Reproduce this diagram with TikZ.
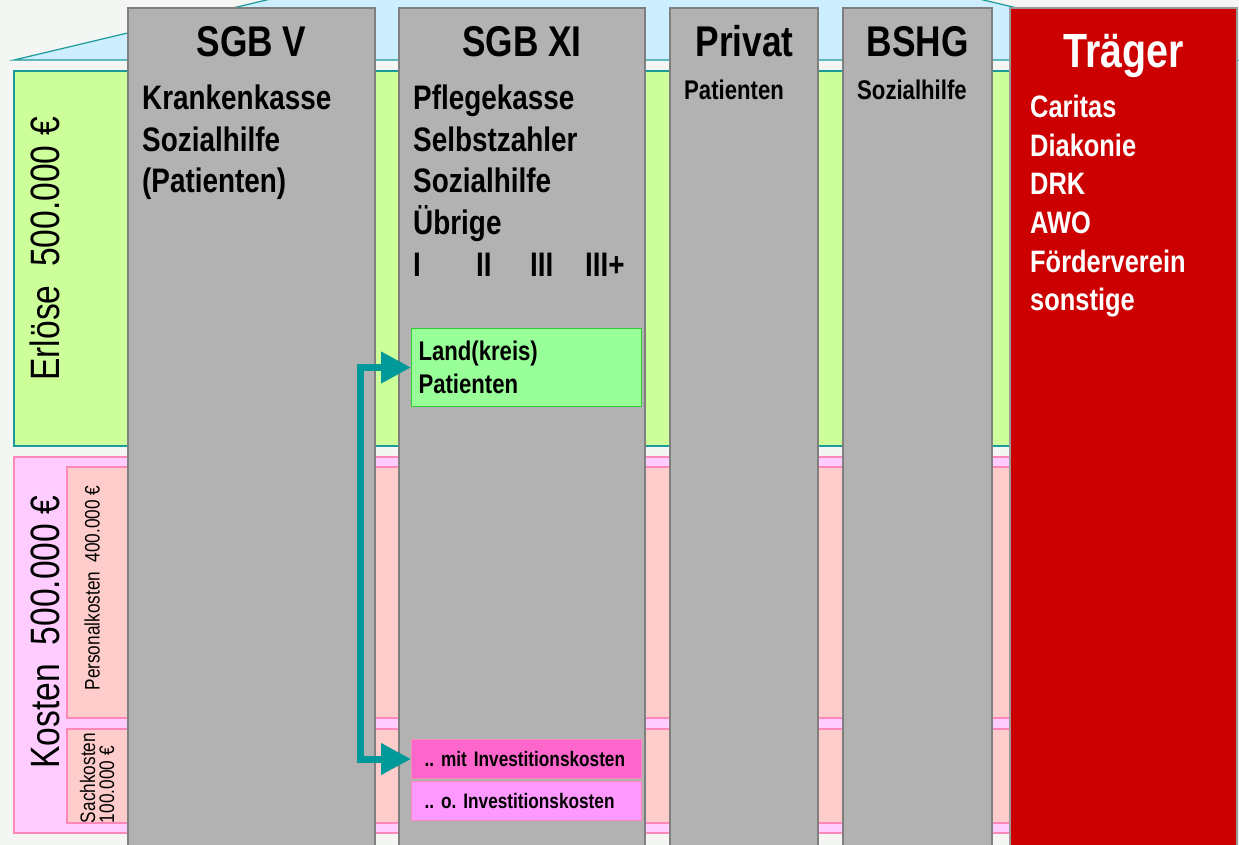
\documentclass[tikz,border=0pt]{standalone}
\usepackage{fontspec}
\setmainfont{Liberation Sans}[FakeStretch=0.82]
\usepackage{xcolor}
\usepackage{tikz}
\usetikzlibrary{arrows.meta}
\definecolor{bg}{HTML}{F4F6F4}
\definecolor{roof}{HTML}{CCEEFF}
\definecolor{tealline}{HTML}{1A9A9A}
\definecolor{erloes}{HTML}{CCFF99}
\definecolor{kosten}{HTML}{FFCCFF}
\definecolor{kostenline}{HTML}{FF88BB}
\definecolor{salmon}{HTML}{FFCCCC}
\definecolor{colgray}{HTML}{B2B2B2}
\definecolor{colline}{HTML}{7F7F7F}
\definecolor{traeger}{HTML}{CC0000}
\definecolor{landgreen}{HTML}{99FF99}
\definecolor{landline}{HTML}{33CC33}
\definecolor{mitpink}{HTML}{FF66CC}
\definecolor{ohnepink}{HTML}{FF99FF}
\definecolor{flowteal}{HTML}{009999}
\tikzset{
  band/.style={line width=1.2pt},
  colbox/.style={fill=colgray, draw=colline, line width=1.5pt},
  title/.style={font=\bfseries\fontsize{43}{50}\selectfont, anchor=base, inner sep=0pt},
  sub/.style={font=\bfseries\fontsize{34}{40}\selectfont, anchor=base west, inner sep=0pt},
  subs/.style={font=\bfseries\fontsize{27}{32}\selectfont, anchor=base west, inner sep=0pt},
  tlist/.style={font=\bfseries\fontsize{31}{36}\selectfont, text=white, anchor=base west, inner sep=0pt},
  biglab/.style={font=\fontsize{41}{48}\selectfont, rotate=90, inner sep=0pt},
  smalllab/.style={font=\fontsize{21}{19}\selectfont, rotate=90, inner sep=0pt, align=left},
  landbox/.style={fill=landgreen, draw=landline, line width=1pt, anchor=north west,
    minimum height=78pt, text width=216pt, inner xsep=7pt, align=left,
    font=\bfseries\fontsize{27}{33}\selectfont},
  invbox/.style={draw=kostenline, line width=1pt, anchor=north west,
    minimum height=39pt, text width=204pt, inner xsep=13pt, align=left,
    font=\bfseries\fontsize{21}{25}\selectfont},
  flow/.style={draw=flowteal, line width=7pt,
    {Triangle[length=30pt,width=30pt]}-{Triangle[length=30pt,width=30pt]}},
}
\begin{document}
\frenchspacing
\begin{tikzpicture}[x=1pt,y=-1pt]
  \useasboundingbox (0,0) rectangle (1239,845);
  \fill[bg] (0,0) rectangle (1239,845);
  \filldraw[fill=roof, draw=tealline, band] (14,60) -- (624,-85) -- (1237,60) -- cycle;
  \filldraw[fill=erloes, draw=tealline, band] (14,71) rectangle (1237,446);
  \filldraw[fill=kosten, draw=kostenline, band] (14,457) rectangle (1237,833);
  \filldraw[fill=salmon, draw=kostenline, band] (67,467) rectangle (1237,718);
  \filldraw[fill=salmon, draw=kostenline, band] (67,729) rectangle (1237,823);

  \node[biglab] (erl) at (45,249) {Erlöse~~500.000 €};
  \node[biglab] (kos) at (45,632) {Kosten~~500.000 €};
  \node[smalllab] (pers) at (92,588) {Personalkosten~~400.000 €};
  \node[smalllab] (sach) at (97,778) {Sachkosten\\100.000 €};

  \foreach \xl/\xr in {128/375, 399/645, 670/818, 843/992}
    \draw[colbox] (\xl,8) rectangle (\xr,852);
  \filldraw[fill=traeger, draw=colline!80, line width=1.5pt] (1010,8) rectangle (1237,852);

  \node[title] (tV) at (251.5,57) {SGB V};
  \node[title] (tXI) at (522,57) {SGB XI};
  \node[title] (tP) at (744.5,57) {Privat};
  \node[title] (tB) at (917.5,57) {BSHG};
  \node[title, text=white, font=\bfseries\fontsize{48}{56}\selectfont] (tT) at (1123.5,68) {Träger};

  \foreach \t [count=\i from 0] in {Krankenkasse,Sozialhilfe,(Patienten)}
    \node[sub] (v\i) at (142,110+41.5*\i) {\t};
  \foreach \t [count=\i from 0] in {Pflegekasse,Selbstzahler,Sozialhilfe,Übrige}
    \node[sub] (xi\i) at (413,110+41.5*\i) {\t};
  \foreach \t/\x [count=\i] in {I/413, II/476, III/530, III+/585}
    \node[sub] (st\i) at (\x,276) {\t};
  \node[subs] (pat) at (684,100) {Patienten};
  \node[subs] (soz) at (857,100) {Sozialhilfe};
  \foreach \t [count=\i from 0] in {Caritas,Diakonie,DRK,AWO,Förderverein,sonstige}
    \node[tlist] (tr\i) at (1030,118+38.5*\i) {\t};

  \node[landbox] (land) at (411,328) {Land(kreis)\\Patienten};
  \node[invbox, fill=mitpink] (mit) at (411,739) {.. mit Investitionskosten};
  \node[invbox, fill=ohnepink] (ohne) at (411,781) {.. o. Investitionskosten};

  \draw[flow] (land.west) -- ++(-51,0) |- (mit.west);
\end{tikzpicture}
\end{document}
